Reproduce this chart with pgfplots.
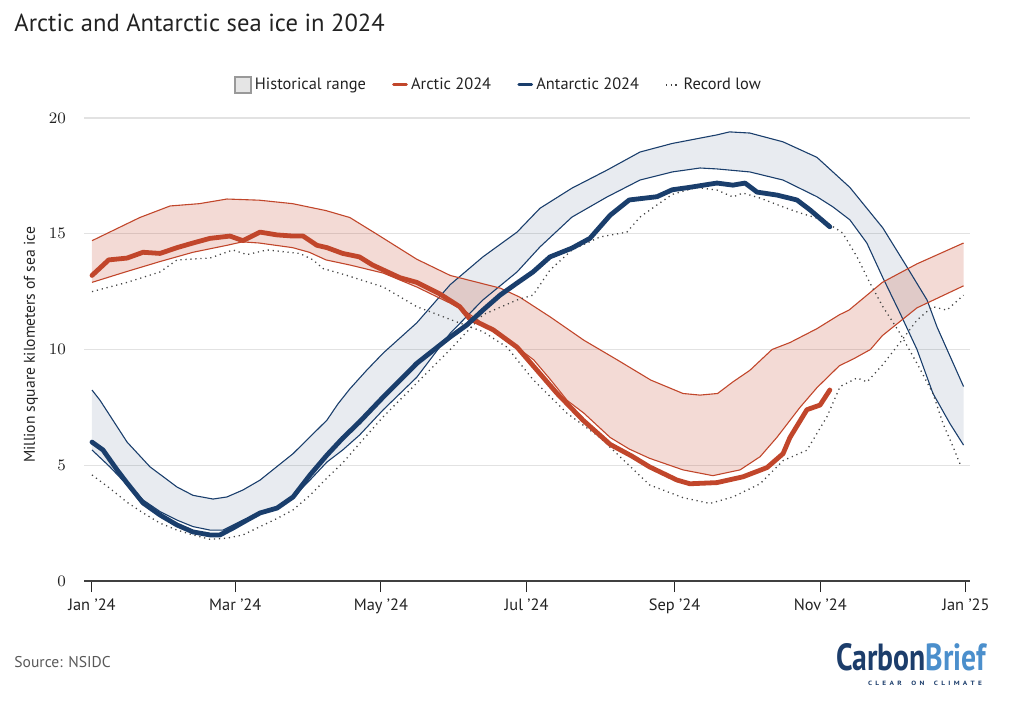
\documentclass[border=0pt]{standalone}
\usepackage{fontspec}
\setmainfont{PT Sans}
\usepackage{graphicx}
\usepackage{pgfplots}
\pgfplotsset{compat=1.18}
\usepgfplotslibrary{fillbetween}

\definecolor{arc}{HTML}{C1462B}
\definecolor{ant}{HTML}{1A3E6C}
\definecolor{txt}{HTML}{222222}
\definecolor{gridc}{HTML}{E2E2E2}
\definecolor{reclow}{HTML}{444444}
\definecolor{cbdark}{HTML}{1C3D6B}
\definecolor{cblight}{HTML}{4B8FCC}

\begin{document}
\begin{tikzpicture}
\begin{scope}[x=0.5pt, y=-0.5pt, shift={(0pt,356.5pt)}]
\path[use as bounding box] (0,0) rectangle (1024,713);
\node[anchor=base west, font=\fontsize{12.3}{14}\selectfont, text=txt, inner sep=0pt] at (14,31.5) {Arctic and Antarctic sea ice in 2024};
\node[anchor=west, font=\fontsize{7.8}{9}\selectfont, text=black!65, inner sep=0pt] at (14,662) {Source: NSIDC};
\node[anchor=south west, inner sep=0pt] at (836,671) {\resizebox{75pt}{13.5pt}{\bfseries\color{cbdark}Carbon\color{cblight}Brief}};
\node[anchor=center, inner sep=0pt] at (925,683) {\resizebox{57pt}{2.2pt}{\bfseries\color{cbdark}C\hspace{0.45em}L\hspace{0.45em}E\hspace{0.45em}A\hspace{0.45em}R\hspace{1.3em}O\hspace{0.45em}N\hspace{1.3em}C\hspace{0.45em}L\hspace{0.45em}I\hspace{0.45em}M\hspace{0.45em}A\hspace{0.45em}T\hspace{0.45em}E}};
\end{scope}

\begin{axis}[
 at={(42pt,66pt)}, anchor=south west, scale only axis,
 width=443pt, height=231.5pt,
 xmin=-3.35, xmax=367.7, ymin=0, ymax=20,
 axis x line*=bottom, axis y line*=left,
 y axis line style={draw=none},
 x axis line style={draw=black!75, line width=0.6pt},
 xtick={0,60,121,182,244,305,366},
 xticklabels={Jan '24,Mar '24,May '24,Jul '24,Sep '24,Nov '24,Jan '25},
 ytick={0,5,10,15,20},
 ymajorgrids, major grid style={draw=gridc, line width=0.6pt},
 tick align=outside, major tick length=5.5pt,
 xtick style={draw=black!85, line width=0.5pt},
 ytick style={draw=none},
 tick label style={font=\fontsize{8.2}{10}\selectfont, text=txt},
 ylabel={Million square kilometers of sea ice},
 ylabel style={at={(axis description cs:-0.0598,0.51)}, anchor=center, font=\fontsize{7.8}{9}\selectfont, text=txt},
 legend columns=4,
 legend style={at={(rel axis cs:0.4684,1.0713)}, anchor=center, draw=none, fill=none,
   font=\fontsize{8.2}{10}\selectfont, text=txt, inner sep=0pt,
   nodes={inner sep=1.6pt},
   /tikz/every even column/.append style={column sep=11.5pt}},
 legend cell align=left,
]
\addlegendimage{legend image code/.code={\draw[black!40, fill=black!10, line width=0.9pt] (0pt,-4pt) rectangle (8pt,4pt);}}
\addlegendentry{Historical range}
\addlegendimage{legend image code/.code={\draw[arc, line width=1.5pt, line cap=round] (0.8pt,0pt) -- (7.2pt,0pt);}}
\addlegendentry{Arctic 2024}
\addlegendimage{legend image code/.code={\draw[ant, line width=1.5pt, line cap=round] (0.8pt,0pt) -- (7.2pt,0pt);}}
\addlegendentry{Antarctic 2024}
\addlegendimage{legend image code/.code={\draw[reclow, line width=0.6pt, dash pattern=on 0.6pt off 1.8pt] (0pt,0pt) -- (7pt,0pt);}}
\addlegendentry{Record low}

% Antarctic historical range
\addplot[name path=NU, ant, line width=0.55pt, forget plot] coordinates {
(0,8.25)(3.4,7.8)(14.7,6.0)(24.3,4.93)(35.6,4.06)(42.3,3.7)(50.7,3.54)(56.5,3.63)(63.2,3.93)(70.4,4.36)(84.2,5.5)(98.4,6.95)(103,7.65)(108,8.3)(115,9.1)(122,9.85)(136,11.15)(150,12.8)(163.7,14.0)(178,15.07)(187.6,16.1)(201,16.97)(215.7,17.75)(229.5,18.53)(243,18.9)(261.7,19.27)(267,19.4)(275.5,19.35)(289.4,18.97)(303.6,18.3)(317.4,17.0)(331.2,15.25)(340.5,13.7)(349.7,12.14)(353.9,10.97)(365,8.4)};
\addplot[name path=NL, ant, line width=0.55pt, forget plot] coordinates {
(0,5.66)(7.5,4.93)(14.7,4.15)(21.4,3.5)(28.5,3.0)(35.6,2.63)(42.3,2.35)(49.4,2.2)(54.9,2.2)(63.2,2.63)(70.4,2.94)(77.5,3.15)(84.2,3.63)(91.3,4.36)(98.4,5.14)(105,5.66)(112,6.3)(122,7.4)(136,8.8)(150,10.7)(163.7,12.14)(178,13.35)(187.6,14.43)(201,15.72)(215.7,16.59)(229.5,17.32)(243,17.67)(254.6,17.84)(261.7,17.8)(275.5,17.67)(289.4,17.32)(303.6,16.6)(310.3,16.16)(317.4,15.6)(324.5,14.6)(331.2,13.1)(338.4,11.57)(345.5,10.0)(352.2,8.1)(359.3,6.8)(365,5.87)};
\addplot[ant, fill opacity=0.1, draw=none, forget plot] fill between[of=NU and NL];

% Arctic historical range
\addplot[name path=AU, arc, line width=0.55pt, forget plot] coordinates {
(0,14.7)(10,15.2)(20,15.7)(32.7,16.2)(45,16.3)(56.5,16.5)(70,16.45)(84,16.3)(98,16.0)(108,15.7)(119,15.0)(136,13.9)(150,13.2)(171,12.65)(179,12.27)(192,11.4)(206,10.4)(220,9.55)(234,8.68)(247.5,8.1)(254.6,8.03)(262,8.1)(268.4,8.6)(275.5,9.1)(284.8,10.0)(292.3,10.3)(303.6,10.9)(313,11.5)(317,11.7)(331,12.9)(345.5,13.7)(365,14.6)};
\addplot[name path=AL, arc, line width=0.55pt, forget plot] coordinates {
(0,12.9)(14,13.35)(28.5,13.8)(42.3,14.2)(56.5,14.5)(63,14.65)(70,14.6)(84,14.4)(91,14.2)(98,13.87)(108,13.65)(122,13.3)(136,12.7)(150,12.0)(157,11.6)(164,11.1)(171,10.7)(178,10.1)(185,9.55)(192,8.7)(199,7.8)(206,7.25)(217,6.2)(225,5.7)(233.5,5.3)(247.5,4.8)(260,4.55)(271.4,4.8)(279.8,5.37)(286.8,6.2)(296.5,7.5)(303.6,8.35)(313,9.3)(319,9.6)(326,10.0)(331,10.6)(345.5,11.8)(365,12.75)};
\addplot[arc, fill opacity=0.2, draw=none, forget plot] fill between[of=AU and AL];

% Record lows
\addplot[reclow, line width=0.65pt, dash pattern=on 0.6pt off 1.9pt, forget plot] coordinates {
(0,12.5)(14.7,12.9)(28.5,13.35)(35.6,13.87)(49.4,13.95)(59,14.3)(64.9,14.1)(73.3,14.3)(87,14.15)(92.6,13.87)(96.7,13.5)(106.8,13.2)(122,12.7)(136,11.85)(150,11.3)(163.7,10.77)(173.8,10.1)(184.7,8.7)(198.9,7.25)(212.7,6.2)(233.5,4.15)(247.5,3.6)(258.8,3.35)(268.4,3.63)(279.8,4.2)(289.4,5.2)(299.4,5.65)(307.8,7.1)(313.3,8.4)(320.4,8.77)(324.6,8.6)(331.2,9.35)(338.4,10.3)(345.5,11.27)(352,11.85)(358,11.7)(365,12.35)};
\addplot[reclow, line width=0.65pt, dash pattern=on 0.6pt off 1.9pt, forget plot] coordinates {
(0,4.58)(7.5,4.0)(14.7,3.4)(21.4,2.94)(28.5,2.5)(35.6,2.2)(42.3,1.99)(49.4,1.8)(56.5,1.85)(63.2,1.99)(70.4,2.35)(77.5,2.7)(84.2,3.07)(91.3,3.7)(98.4,4.45)(105,5.1)(110,5.7)(122,7.1)(136,8.55)(150,10.0)(163.7,11.5)(178,12.14)(184.7,12.35)(191.8,13.43)(201,14.3)(212.7,14.86)(224,15.07)(229.5,15.72)(236,16.2)(243,16.7)(253,17.0)(261.7,16.89)(268.4,16.59)(272.6,16.76)(279.8,16.54)(289.4,16.16)(296.5,15.9)(306,15.6)(314.4,15.03)(320.4,14.0)(325.8,12.87)(331.2,11.85)(338.4,10.7)(345.5,9.4)(352.2,8.1)(356.4,6.8)(360.6,5.8)(364,4.93)};

% Arctic 2024
\addplot[arc, line width=2.4pt, line join=round, line cap=round, forget plot] coordinates {
(0,13.2)(7,13.87)(14.7,13.95)(21.4,14.2)(28.5,14.15)(35.6,14.4)(42.3,14.6)(49.4,14.8)(57.8,14.9)(63.2,14.7)(70.4,15.07)(77.5,14.95)(84.2,14.9)(88.4,14.9)(94.2,14.5)(98.4,14.4)(105,14.15)(112,14.0)(117.5,13.65)(129,13.1)(136,12.9)(145.7,12.4)(154,11.85)(158,11.35)(168,10.85)(178,10.1)(186.4,9.1)(194.8,8.1)(205.6,6.95)(217,5.9)(226,5.4)(233.5,4.93)(245,4.36)(250.4,4.2)(261.7,4.25)(272.6,4.5)(282.7,4.9)(289.4,5.5)(292.3,6.2)(299.4,7.4)(304.9,7.6)(309,8.25)};

% Antarctic 2024
\addplot[ant, line width=2.4pt, line join=round, line cap=round, forget plot] coordinates {
(0,6.0)(4.6,5.66)(10.5,4.8)(14.7,4.23)(21.4,3.37)(28.5,2.85)(35.6,2.42)(42.3,2.12)(49.4,1.99)(53.6,1.99)(59.1,2.29)(64.9,2.63)(70.4,2.94)(77.5,3.15)(84.2,3.63)(91.3,4.58)(98.4,5.44)(105,6.17)(112,6.87)(122,7.95)(136,9.4)(150,10.54)(157,11.06)(163.7,11.7)(170.9,12.35)(178,12.87)(184.7,13.35)(191.8,14.0)(201,14.38)(208.5,14.8)(217,15.8)(225,16.46)(236.6,16.6)(243,16.9)(250,17.0)(261.7,17.19)(268.4,17.1)(273.5,17.19)(278.5,16.8)(286.9,16.67)(295.2,16.46)(300.7,16.03)(309,15.3)};
\end{axis}
\end{tikzpicture}
\end{document}
